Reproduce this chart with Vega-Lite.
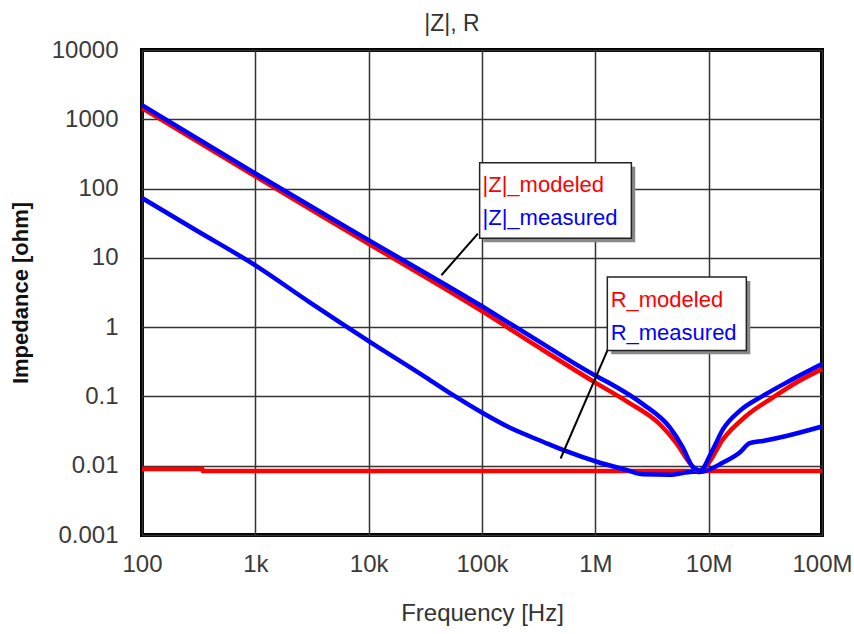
{
  "$schema": "https://vega.github.io/schema/vega-lite/v6.json",
  "autosize": "none",
  "width": 680,
  "height": 485,
  "padding": {"left": 142, "top": 50, "right": 32, "bottom": 99},
  "background": "white",
  "title": {"text": "|Z|, R", "font": "Liberation Sans", "fontSize": 23, "fontWeight": "normal", "color": "#333", "offset": 12, "dx": -30, "dy": 10},
  "config": {
    "view": {"stroke": "black", "strokeWidth": 4},
    "axis": {"labelFont": "Liberation Sans", "labelFontSize": 24, "labelColor": "#3a3a3a", "titleFont": "Liberation Sans", "gridColor": "#333", "gridWidth": 1.5, "gridOpacity": 1, "ticks": false, "domain": false}
  },
  "datasets": {
    "lines": [
      {"s": "Rmod", "kind": "modeled", "f": 100, "z": 0.009},
      {"s": "Rmod", "kind": "modeled", "f": 340, "z": 0.009},
      {"s": "Rmod", "kind": "modeled", "f": 345, "z": 0.0084},
      {"s": "Rmod", "kind": "modeled", "f": 100000000, "z": 0.0084},
      {"s": "Rmeas", "kind": "measured", "f": 100, "z": 73},
      {"s": "Rmeas", "kind": "measured", "f": 300, "z": 25},
      {"s": "Rmeas", "kind": "measured", "f": 1000, "z": 7.8},
      {"s": "Rmeas", "kind": "measured", "f": 3000, "z": 2.3},
      {"s": "Rmeas", "kind": "measured", "f": 10000, "z": 0.63},
      {"s": "Rmeas", "kind": "measured", "f": 32200, "z": 0.187},
      {"s": "Rmeas", "kind": "measured", "f": 55300, "z": 0.105},
      {"s": "Rmeas", "kind": "measured", "f": 100600, "z": 0.058},
      {"s": "Rmeas", "kind": "measured", "f": 175000, "z": 0.0355},
      {"s": "Rmeas", "kind": "measured", "f": 345000, "z": 0.0222},
      {"s": "Rmeas", "kind": "measured", "f": 554000, "z": 0.0162},
      {"s": "Rmeas", "kind": "measured", "f": 1030000, "z": 0.0114},
      {"s": "Rmeas", "kind": "measured", "f": 1880000, "z": 0.0087},
      {"s": "Rmeas", "kind": "measured", "f": 2630000, "z": 0.0075},
      {"s": "Rmeas", "kind": "measured", "f": 4500000, "z": 0.0074},
      {"s": "Rmeas", "kind": "measured", "f": 7260000, "z": 0.0082},
      {"s": "Rmeas", "kind": "measured", "f": 8340000, "z": 0.0081},
      {"s": "Rmeas", "kind": "measured", "f": 13400000, "z": 0.0111},
      {"s": "Rmeas", "kind": "measured", "f": 18800000, "z": 0.0155},
      {"s": "Rmeas", "kind": "measured", "f": 23000000, "z": 0.0211},
      {"s": "Rmeas", "kind": "measured", "f": 30100000, "z": 0.0228},
      {"s": "Rmeas", "kind": "measured", "f": 48500000, "z": 0.0269},
      {"s": "Rmeas", "kind": "measured", "f": 100000000, "z": 0.0368},
      {"s": "Zmod", "kind": "modeled", "f": 100, "z": 1450},
      {"s": "Zmod", "kind": "modeled", "f": 1000, "z": 150},
      {"s": "Zmod", "kind": "modeled", "f": 10000, "z": 16},
      {"s": "Zmod", "kind": "modeled", "f": 100000, "z": 1.7},
      {"s": "Zmod", "kind": "modeled", "f": 300000, "z": 0.54},
      {"s": "Zmod", "kind": "modeled", "f": 1000000, "z": 0.158},
      {"s": "Zmod", "kind": "modeled", "f": 1890000, "z": 0.085},
      {"s": "Zmod", "kind": "modeled", "f": 3690000, "z": 0.04},
      {"s": "Zmod", "kind": "modeled", "f": 5200000, "z": 0.021},
      {"s": "Zmod", "kind": "modeled", "f": 6800000, "z": 0.011},
      {"s": "Zmod", "kind": "modeled", "f": 7800000, "z": 0.0087},
      {"s": "Zmod", "kind": "modeled", "f": 8100000, "z": 0.0085},
      {"s": "Zmod", "kind": "modeled", "f": 9550000, "z": 0.01},
      {"s": "Zmod", "kind": "modeled", "f": 13400000, "z": 0.0242},
      {"s": "Zmod", "kind": "modeled", "f": 21500000, "z": 0.0525},
      {"s": "Zmod", "kind": "modeled", "f": 37000000, "z": 0.097},
      {"s": "Zmod", "kind": "modeled", "f": 59400000, "z": 0.159},
      {"s": "Zmod", "kind": "modeled", "f": 100000000, "z": 0.248},
      {"s": "Zmeas", "kind": "measured", "f": 100, "z": 1600},
      {"s": "Zmeas", "kind": "measured", "f": 1000, "z": 165},
      {"s": "Zmeas", "kind": "measured", "f": 10000, "z": 18},
      {"s": "Zmeas", "kind": "measured", "f": 100000, "z": 2.0},
      {"s": "Zmeas", "kind": "measured", "f": 300000, "z": 0.66},
      {"s": "Zmeas", "kind": "measured", "f": 1000000, "z": 0.2},
      {"s": "Zmeas", "kind": "measured", "f": 1340000, "z": 0.155},
      {"s": "Zmeas", "kind": "measured", "f": 2610000, "z": 0.078},
      {"s": "Zmeas", "kind": "measured", "f": 4520000, "z": 0.036},
      {"s": "Zmeas", "kind": "measured", "f": 5890000, "z": 0.0186},
      {"s": "Zmeas", "kind": "measured", "f": 7210000, "z": 0.0097},
      {"s": "Zmeas", "kind": "measured", "f": 8000000, "z": 0.0087},
      {"s": "Zmeas", "kind": "measured", "f": 8340000, "z": 0.0084},
      {"s": "Zmeas", "kind": "measured", "f": 10900000, "z": 0.0173},
      {"s": "Zmeas", "kind": "measured", "f": 13400000, "z": 0.0337},
      {"s": "Zmeas", "kind": "measured", "f": 18800000, "z": 0.062},
      {"s": "Zmeas", "kind": "measured", "f": 30100000, "z": 0.102},
      {"s": "Zmeas", "kind": "measured", "f": 51900000, "z": 0.168},
      {"s": "Zmeas", "kind": "measured", "f": 100000000, "z": 0.293}
    ],
    "leaders": [
      {"f": 92000, "z": 22.4, "f2": 43800, "z2": 5.61},
      {"f": 1290000, "z": 0.477, "f2": 494000, "z2": 0.0127}
    ],
    "shadows": [
      {"f": 103000, "z": 206, "f2": 2250000, "z2": 16.8},
      {"f": 1380000, "z": 4.63, "f2": 23300000, "z2": 0.405}
    ],
    "boxes": [
      {"f": 95300, "z": 235, "f2": 2080000, "z2": 19.2},
      {"f": 1276000, "z": 5.3, "f2": 21500000, "z2": 0.462}
    ],
    "labels": [
      {"t": "|Z|_modeled", "kind": "modeled", "f": 101000, "z": 112},
      {"t": "|Z|_measured", "kind": "measured", "f": 101000, "z": 37.3},
      {"t": "R_modeled", "kind": "modeled", "f": 1365000, "z": 2.44},
      {"t": "R_measured", "kind": "measured", "f": 1365000, "z": 0.813}
    ]
  },
  "encoding": {
    "x": {
      "field": "f", "type": "quantitative",
      "scale": {"type": "log", "domain": [100, 100000000], "nice": false},
      "axis": {
        "values": [100, 1000, 10000, 100000, 1000000, 10000000, 100000000],
        "labelExpr": "datum.value >= 1000000 ? (round(datum.value/1000000) + 'M') : datum.value >= 1000 ? (round(datum.value/1000) + 'k') : (round(datum.value) + '')",
        "labelPadding": 17, "labelFlush": false, "labelOverlap": false,
        "title": "Frequency [Hz]", "titleFontSize": 24, "titleFontWeight": "normal", "titleColor": "#333", "titlePadding": 25
      }
    },
    "y": {
      "field": "z", "type": "quantitative",
      "scale": {"type": "log", "domain": [0.001, 10000], "nice": false},
      "axis": {
        "values": [0.001, 0.01, 0.1, 1, 10, 100, 1000, 10000],
        "format": "~g",
        "labelPadding": 24, "labelOverlap": false,
        "title": "Impedance [ohm]", "titleFontSize": 22, "titleFontWeight": "bold", "titleColor": "#111", "titlePadding": 19
      }
    },
    "color": {
      "field": "kind", "type": "nominal",
      "scale": {"domain": ["modeled", "measured"], "range": ["#ff0000", "#0000ff"]},
      "legend": null
    }
  },
  "layer": [
    {"data": {"name": "lines"}, "transform": [{"filter": "datum.s === 'Rmod'"}], "mark": {"type": "line", "strokeWidth": 4.5}},
    {"data": {"name": "lines"}, "transform": [{"filter": "datum.s === 'Rmeas'"}], "mark": {"type": "line", "strokeWidth": 4.5, "interpolate": "monotone"}},
    {"data": {"name": "lines"}, "transform": [{"filter": "datum.s === 'Zmod'"}], "mark": {"type": "line", "strokeWidth": 4.5, "interpolate": "monotone"}},
    {"data": {"name": "lines"}, "transform": [{"filter": "datum.s === 'Zmeas'"}], "mark": {"type": "line", "strokeWidth": 4.5, "interpolate": "monotone"}},
    {"data": {"name": "leaders"}, "mark": {"type": "rule", "color": "black", "strokeWidth": 2}, "encoding": {"x2": {"field": "f2"}, "y2": {"field": "z2"}, "color": {"value": "black"}}},
    {"data": {"name": "shadows"}, "mark": {"type": "rect", "fill": "#888", "strokeWidth": 0}, "encoding": {"x2": {"field": "f2"}, "y2": {"field": "z2"}, "color": {"value": "#888"}}},
    {"data": {"name": "boxes"}, "mark": {"type": "rect", "fill": "white", "stroke": "#222", "strokeWidth": 1.5}, "encoding": {"x2": {"field": "f2"}, "y2": {"field": "z2"}, "color": {"value": "white"}, "stroke": {"value": "#222"}}},
    {"data": {"name": "labels"}, "mark": {"type": "text", "align": "left", "baseline": "middle", "font": "Liberation Sans", "fontSize": 22}, "encoding": {"text": {"field": "t"}}}
  ]
}
